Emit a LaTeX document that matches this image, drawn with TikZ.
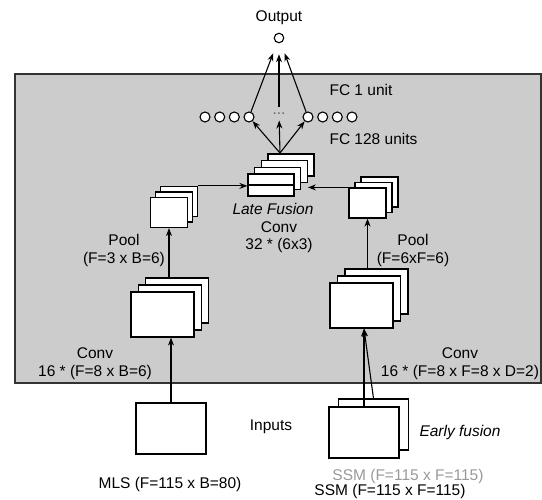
\documentclass[tikz,border=0pt]{standalone}
\usepackage{fontspec}
\setmainfont{Liberation Sans}
\usetikzlibrary{arrows.meta}
\begin{document}
\begin{tikzpicture}[>={Stealth[length=8pt,width=6pt]}, x=1pt, y=-1pt,
  every node/.style={font=\fontsize{15.5}{18}\selectfont},
  mapa/.style={draw, fill=white, inner sep=0pt, line width=1.2pt},
  convmapa/.style={mapa, minimum width=63pt, minimum height=45pt},
  poolmapa/.style={mapa, minimum width=37pt, minimum height=30pt},
  fusaomapa/.style={mapa, minimum width=46pt, minimum height=22pt},
  entrada/.style={mapa, minimum width=70pt, minimum height=51pt},
  neuronio/.style={draw, circle, fill=white, minimum size=10pt, inner sep=0pt, line width=1.1pt},
  seta/.style={->, line width=1.1pt}]
\useasboundingbox (0,0) rectangle (542,500);
% Bloco de fusao
\draw[fill=black!20, draw=black!80, line width=1.8pt] (15,74) rectangle (541,383);
% Saida
\node (outlbl) at (279,18) {Output};
\node[neuronio, minimum size=9.5pt] (out) at (279,38) {};
% FC 128
\node[neuronio] (fc1) at (205,117) {};
\node[neuronio] (fc2) at (219.7,117) {};
\node[neuronio] (fc3) at (234.3,117) {};
\node[neuronio] (fc4) at (249,117) {};
\node[inner xsep=1pt, inner ysep=5.5pt, text=black!60] (dots) at (279,114) {...};
\node[neuronio] (fc5) at (308,117) {};
\node[neuronio] (fc6) at (322.7,117) {};
\node[neuronio] (fc7) at (337.3,117) {};
\node[neuronio] (fc8) at (352,117) {};
\node[anchor=west] (fc1lbl) at (326,90) {FC 1 unit};
\node[anchor=west] (fc128lbl) at (326,139) {FC 128 units};
\draw[seta, shorten >=11pt] (fc4) -- (out);
\draw[seta, shorten >=11pt] (dots.north) -- (out);
\draw[seta, shorten >=11pt] (fc5) -- (out);
% Late fusion
\node[fusaomapa] (lf4) at (291,165) {};
\node[fusaomapa] (lf3) at (284.3,171.7) {};
\node[fusaomapa] (lf2) at (277.7,178.3) {};
\node[fusaomapa] (lf1) at (271,185) {};
\draw[line width=1.2pt] (lf1.west) -- (lf1.east);
\coordinate (fuse) at (280,153);
\draw[seta] (fuse) -- (fc4);
\draw[seta] (fuse) -- (dots);
\draw[seta] (fuse) -- (fc5);
\node[font=\fontsize{15.5}{18}\selectfont\itshape] (lflbl) at (273,209) {Late Fusion};
\node (lfconv) at (279,227) {Conv};
\node (lfsize) at (279,245) {32 * (6x3)};
% Ramo MLS
\node[poolmapa] (lp3) at (179,201.5) {};
\node[poolmapa] (lp2) at (174,207) {};
\node[poolmapa] (lp1) at (169,212.5) {};
\node[convmapa] (lc3) at (177,300.5) {};
\node[convmapa] (lc2) at (169.8,307.5) {};
\node[convmapa] (lc1) at (162.5,314.5) {};
\node[entrada] (mls) at (171,428.5) {};
\draw[seta] (mls.north) -- (mls.north |- lc1.south);
\draw[seta] (lc3.north -| lp1.south) -- (lp1.south);
\draw[seta] (lp3.north east) -- (lp3.north east -| lf1.west);
\node (lplbl) at (124,240) {Pool};
\node (lpsize) at (124,259) {(F=3 x B=6)};
\node (lclbl) at (95,353) {Conv};
\node (lcsize) at (95,372) {16 * (F=8 x B=6)};
\node (mlslbl) at (170,484) {MLS (F=115 x B=80)};
% Ramo SSM
\node[poolmapa] (rp3) at (379.5,192) {};
\node[poolmapa] (rp2) at (373.5,197.5) {};
\node[poolmapa] (rp1) at (367.5,203) {};
\node[convmapa] (rc3) at (376.5,291.5) {};
\node[convmapa] (rc2) at (369,298.5) {};
\node[convmapa] (rc1) at (361.5,305.5) {};
\node[entrada] (ssm2) at (373.5,424.5) {};
\node[entrada] (ssm1) at (364,432.5) {};
\draw[seta] (ssm1.north) -- (ssm1.north |- rc1.south);
\draw[seta] (ssm2.north) -- (ssm1.north |- rc1.south);
\draw[seta] (rc3.north -| rp1.south) -- (rp1.south);
\draw[seta] (rp1.north west) -- (rp1.north west -| lf3.east);
\node (rplbl) at (413,240) {Pool};
\node (rpsize) at (413,259) {(F=6xF=6)};
\node (rclbl) at (460,353) {Conv};
\node (rcsize) at (460,372) {16 * (F=8 x F=8 x D=2)};
\node[font=\fontsize{15.5}{18}\selectfont\itshape] (eflbl) at (460,432) {Early fusion};
\node[text=black!40] (ssmcinza) at (408,476) {SSM (F=115 x F=115)};
\node (ssmlbl) at (390,491) {SSM (F=115 x F=115)};
% Entradas
\node (inlbl) at (271,427) {Inputs};
\end{tikzpicture}
\end{document}
